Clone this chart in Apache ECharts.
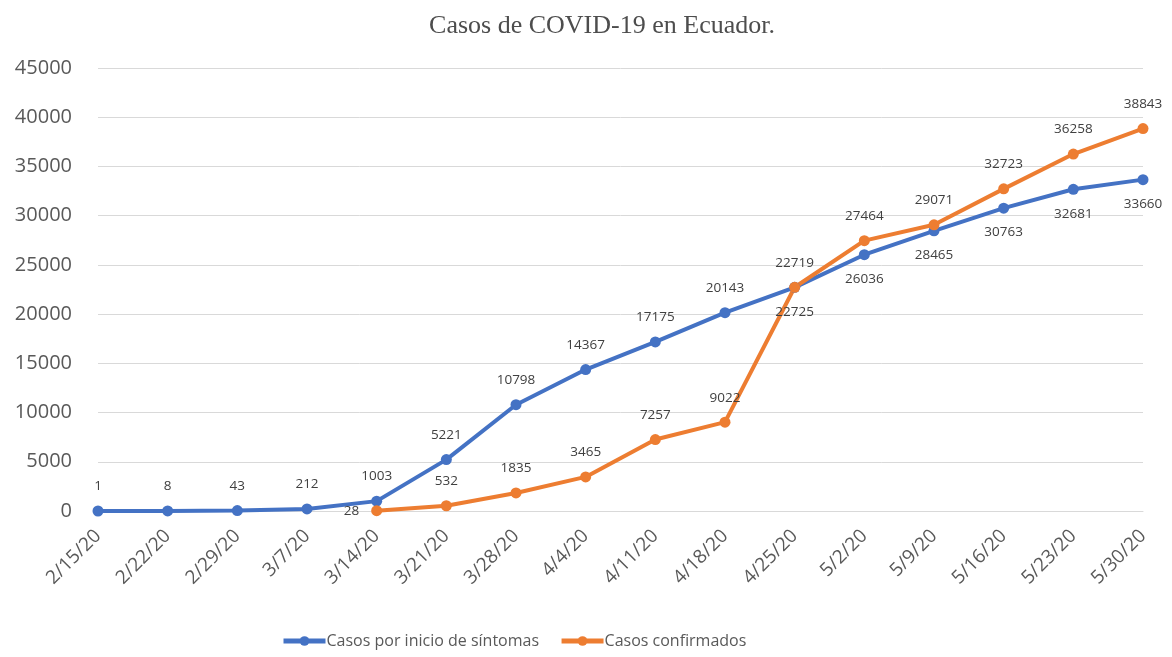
<!DOCTYPE html>
<html>
<head>
<meta charset="utf-8">
<script src="https://cdn.jsdelivr.net/npm/echarts@6/dist/echarts.min.js"></script>
<style>
html,body{margin:0;padding:0;background:#fff;}
#chart{width:1172px;height:657px;}
</style>
</head>
<body>
<div id="chart"></div>
<script>
var categories = ["2/15/20","2/22/20","2/29/20","3/7/20","3/14/20","3/21/20","3/28/20","4/4/20",
  "4/11/20","4/18/20","4/25/20","5/2/20","5/9/20","5/16/20","5/23/20","5/30/20"];
var sintomas = [1,8,43,212,1003,5221,10798,14367,17175,20143,22719,26036,28465,30763,32681,33660];
var confirmados = [null,null,null,null,28,532,1835,3465,7257,9022,22725,27464,29071,32723,36258,38843];
/* label side per point: t = top, b = bottom, l = left */
var sintomasPos = ["t","t","t","t","t","t","t","t","t","t","t","b","b","b","b","b"];
var confirmadosPos = [null,null,null,null,"l","t","t","t","t","t","b","t","t","t","t","t"];

var POS = { t:"top", b:"bottom", l:"left" };
function withLabels(vals, sides){
  return vals.map(function(v, i){
    if(v == null) return null;
    return { value:v, label:{ position:POS[sides[i]] } };
  });
}
var labelStyle = { show:true, color:"#404040", fontSize:13.5, fontFamily:"'Open Sans', 'DejaVu Sans', sans-serif", distance:12 };

var ch = echarts.init(document.getElementById("chart"), null, {renderer:"canvas"});
ch.setOption({
  animation:false,
  backgroundColor:"#fff",
  title:{ text:"Casos de COVID-19 en Ecuador.", left:597, textAlign:"center", top:8,
    textStyle:{ fontFamily:"'Liberation Serif', 'DejaVu Serif', serif", fontWeight:"normal", fontSize:26, color:"#4d4d4d" } },
  grid:{ left:98, right:29, top:68, bottom:146, containLabel:false },
  legend:{ top:628, left:276, itemWidth:42, itemHeight:12, itemGap:20,
    lineStyle:{ width:5 },
    textStyle:{ fontFamily:"'Open Sans', 'Liberation Sans', sans-serif", fontSize:16, color:"#595959", padding:[0,0,0,-4] },
    data:["Casos por inicio de síntomas","Casos confirmados"] },
  xAxis:{
    type:"category", data:categories, boundaryGap:false,
    axisLine:{ show:true, lineStyle:{ color:"#d9d9d9" } },
    axisTick:{ show:false },
    axisLabel:{ rotate:45, color:"#595959", fontSize:19, margin:22, interval:0,
      fontFamily:"'Open Sans', 'Liberation Sans', sans-serif" },
    splitLine:{ show:false }
  },
  yAxis:{
    type:"value", min:0, max:45000, interval:5000,
    axisLine:{ show:false }, axisTick:{ show:false },
    axisLabel:{ color:"#595959", fontSize:20, margin:26, fontFamily:"'Open Sans', 'Liberation Sans', sans-serif",
      formatter:function(v){ return String(v); } },
    splitLine:{ lineStyle:{ color:"#d9d9d9", width:1 } }
  },
  series:[
    { name:"Casos por inicio de síntomas", type:"line", data:withLabels(sintomas, sintomasPos),
      symbol:"circle", symbolSize:11, lineStyle:{ width:4, color:"#4472C4" },
      itemStyle:{ color:"#4472C4" }, label:labelStyle, emphasis:{ disabled:true } },
    { name:"Casos confirmados", type:"line", data:withLabels(confirmados, confirmadosPos),
      symbol:"circle", symbolSize:11, lineStyle:{ width:4, color:"#ED7D31" },
      itemStyle:{ color:"#ED7D31" }, label:labelStyle, emphasis:{ disabled:true } }
  ]
});
</script>
</body>
</html>
